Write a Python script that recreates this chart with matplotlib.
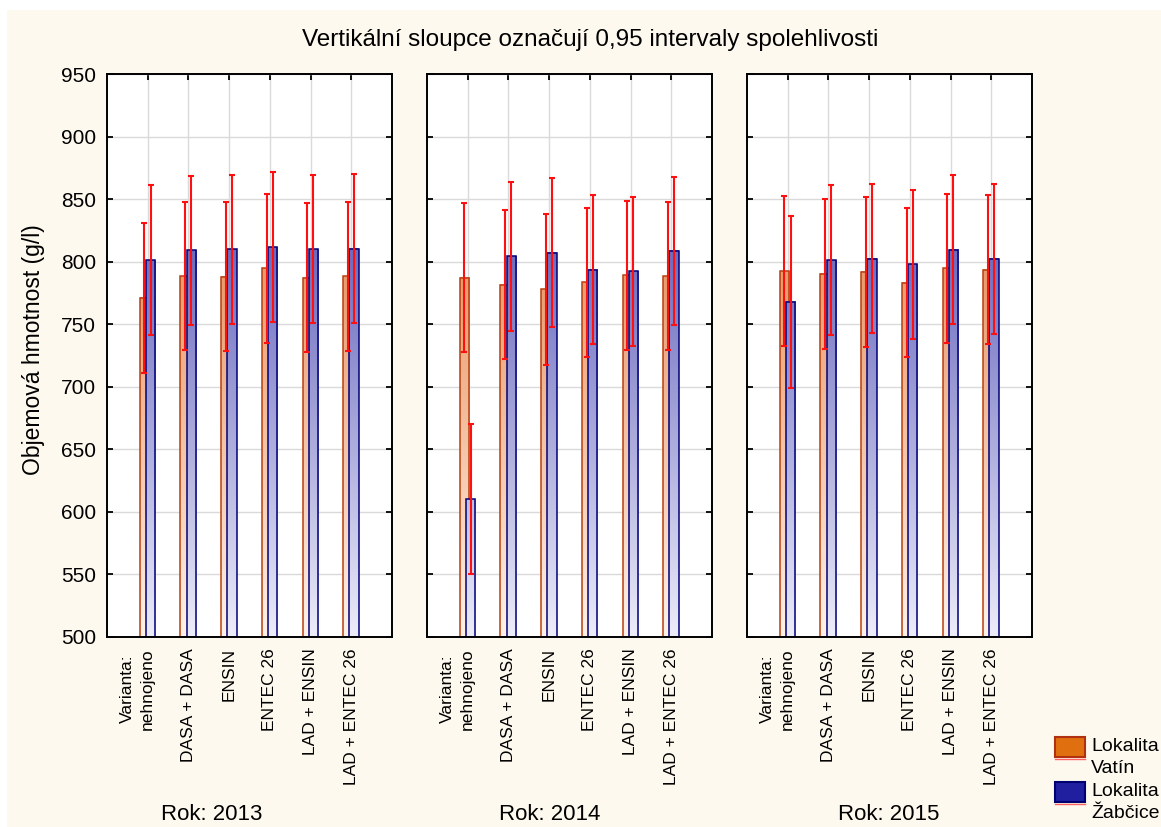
"""Bulk density by fertiliser variant, site and year, with 0.95 confidence intervals."""

import matplotlib
matplotlib.use("Agg")
import matplotlib.pyplot as plt
import numpy as np
from matplotlib.colors import to_rgb
from matplotlib.lines import Line2D
from matplotlib.patches import Rectangle

plt.rcParams["font.family"] = ["Liberation Sans", "DejaVu Sans"]

VARIANTS = ["nehnojeno", "DASA + DASA", "ENSIN", "ENTEC 26", "LAD + ENSIN", "LAD + ENTEC 26"]
YEARS = [2013, 2014, 2015]

# mean bulk density (g/l), one row per year
VATIN_MEAN = [
    [771.0, 788.5, 788.0, 794.7, 787.0, 788.3],
    [787.2, 781.6, 778.0, 783.5, 789.0, 788.5],
    [792.5, 790.2, 792.0, 783.2, 794.7, 793.6],
]
ZABCICE_MEAN = [
    [801.3, 809.0, 809.8, 811.5, 810.0, 810.5],
    [610.0, 804.3, 807.0, 793.6, 792.3, 808.7],
    [767.8, 801.3, 802.4, 797.9, 809.6, 802.4],
]
# half-width of the 0.95 confidence interval
VATIN_CI = [
    [59.6, 59.5, 59.7, 59.6, 59.5, 59.7],
    [59.7, 59.7, 60.4, 59.7, 59.5, 59.5],
    [59.7, 60.1, 60.0, 59.7, 59.6, 59.7],
]
ZABCICE_CI = [
    [59.7, 59.7, 59.7, 59.9, 59.0, 59.5],
    [60.0, 59.6, 59.6, 59.4, 59.6, 59.3],
    [69.0, 59.7, 59.6, 59.6, 59.7, 59.9],
]

YMIN, YMAX = 500, 950
GRAD_TOP = 820
BG = "#FDF9EE"
W, H = 1161, 827


def fx(px):
    return px / W


def fy(py):
    return 1 - py / H


def gradient_bars(ax, xs, means, pale, full, edge, z):
    bars = ax.bar(xs, np.asarray(means) - YMIN, 0.23, bottom=YMIN, facecolor="none",
                  edgecolor=edge, linewidth=1.1, zorder=z + 0.1)
    pale, full = np.array(to_rgb(pale)), np.array(to_rgb(full))
    for bar in bars:
        x0, y0 = bar.get_x(), bar.get_y()
        ys = np.linspace(y0, y0 + bar.get_height(), 80)
        t = np.clip((ys - YMIN) / (GRAD_TOP - YMIN), 0, 1)[:, None]
        rgb = pale * (1 - t) + full * t
        ax.imshow(rgb[:, None, :], extent=(x0, x0 + bar.get_width(), y0, y0 + bar.get_height()),
                  origin="lower", aspect="auto", interpolation="bilinear", zorder=z)
    return bars


def main():
    fig = plt.figure(figsize=(W / 100, H / 100), dpi=100, facecolor="white")
    fig.add_artist(Rectangle((fx(7), 0), 1 - fx(7), fy(10), transform=fig.transFigure,
                             facecolor=BG, edgecolor="none", zorder=-10))

    lefts = [107, 427, 747]
    rok_x = [212, 550, 889]
    x = np.arange(1, len(VARIANTS) + 1)
    for i, year in enumerate(YEARS):
        ax = fig.add_axes([fx(lefts[i]), fy(637), fx(285), fy(74) - fy(637)])
        ax.set_facecolor("white")
        gradient_bars(ax, x - 0.08, VATIN_MEAN[i], "#FFF1E8", "#E8935F", "#B8400F", 2)
        gradient_bars(ax, x + 0.07, ZABCICE_MEAN[i], "#ECECF9", "#6868BE", "#00007A", 2.4)
        ax.errorbar(x - 0.08, VATIN_MEAN[i], yerr=VATIN_CI[i], fmt="none", ecolor="#FF1010",
                    elinewidth=1.5, capsize=2.5, capthick=1.5, zorder=4)
        ax.errorbar(x + 0.07, ZABCICE_MEAN[i], yerr=ZABCICE_CI[i], fmt="none", ecolor="#FF1010",
                    elinewidth=1.5, capsize=2.5, capthick=1.5, zorder=4)

        ax.set_xlim(0, len(VARIANTS) + 1)
        ax.set_ylim(YMIN, YMAX)
        ax.set_yticks(np.arange(YMIN, YMAX + 1, 50))
        ax.set_xticks(x, VARIANTS, rotation=90)
        ax.grid(True, color="#DADADA", linewidth=1)
        ax.set_axisbelow(True)
        ax.tick_params(direction="in", length=4, width=1.3, top=True, right=True)
        ax.tick_params(axis="x", pad=8, labelsize=12.5)
        ax.tick_params(axis="y", pad=8, labelsize=15, labelleft=(i == 0))
        for spine in ax.spines.values():
            spine.set_linewidth(1.4)
        ax.annotate("Varianta:", xy=(1, 0), xycoords=("data", "axes fraction"),
                    xytext=(-14.5, -37.5), textcoords="offset points", rotation=90,
                    ha="center", va="center", fontsize=12.5)
        fig.text(fx(rok_x[i]), fy(815), f"Rok: {year}", ha="center", va="center", fontsize=16)

    fig.text(fx(590), fy(40), "Vertikální sloupce označují 0,95 intervaly spolehlivosti",
             ha="center", va="center", fontsize=17.5)
    fig.text(fx(34), fy(350), "Objemová hmotnost (g/l)", rotation=90,
             ha="center", va="center", fontsize=16.5)

    # legend
    entries = [("Lokalita\nVatín", "#E0700F", "#B03010", 737),
               ("Lokalita\nŽabčice", "#1F1FA0", "#000070", 782)]
    for label, face, edge, top in entries:
        fig.add_artist(Rectangle((fx(1055), fy(top + 20)), fx(30), fy(top) - fy(top + 20),
                                 transform=fig.transFigure, facecolor=face, edgecolor=edge,
                                 linewidth=1.5))
        fig.add_artist(Line2D([fx(1055), fx(1085)], [fy(top + 22)] * 2, transform=fig.transFigure,
                              color="#FF6060", linewidth=1))
        fig.text(fx(1091), fy(top + 1), label, ha="left", va="top", fontsize=14, linespacing=1.38)

    fig.savefig("out.png", dpi=100, facecolor=fig.get_facecolor())
    plt.close(fig)


if __name__ == "__main__":
    main()
